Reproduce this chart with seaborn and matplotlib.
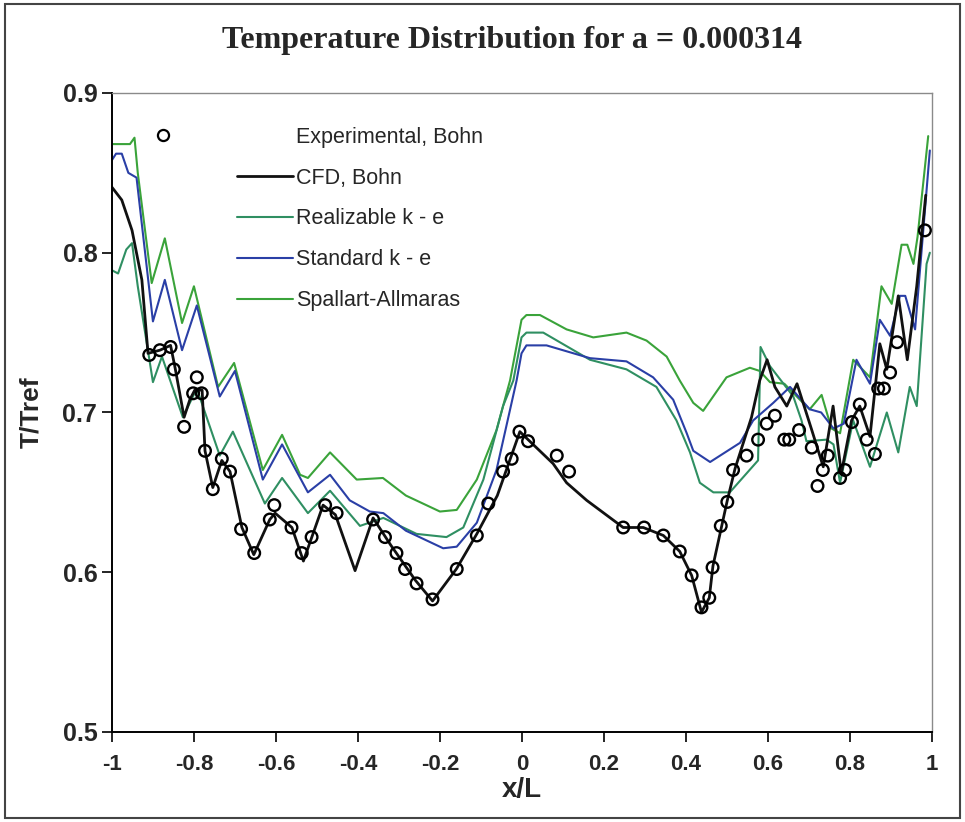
"""Temperature distribution T/Tref along x/L: experiment vs CFD turbulence models."""
import matplotlib
matplotlib.use("Agg")
import matplotlib.pyplot as plt
import numpy as np
import seaborn as sns
from matplotlib.legend_handler import HandlerLine2D
from matplotlib.lines import Line2D
from matplotlib.patches import Rectangle

# Experimental, Bohn (open circles)
exp_x = [-0.909, -0.883, -0.857, -0.849, -0.824, -0.802, -0.793, -0.781, -0.773, -0.754,
         -0.732, -0.712, -0.685, -0.653, -0.615, -0.604, -0.562, -0.537, -0.513, -0.480,
         -0.452, -0.363, -0.334, -0.306, -0.285, -0.257, -0.218, -0.159, -0.110, -0.082,
         -0.046, -0.025, -0.006, 0.015, 0.085, 0.115, 0.247, 0.298, 0.345, 0.385,
         0.414, 0.438, 0.457, 0.465, 0.485, 0.501, 0.515, 0.548, 0.576, 0.597,
         0.617, 0.640, 0.652, 0.676, 0.707, 0.721, 0.734, 0.746, 0.776, 0.788,
         0.805, 0.824, 0.841, 0.861, 0.869, 0.883, 0.898, 0.915, 0.983]
exp_y = [0.736, 0.739, 0.741, 0.727, 0.691, 0.712, 0.722, 0.712, 0.676, 0.652,
         0.671, 0.663, 0.627, 0.612, 0.633, 0.642, 0.628, 0.612, 0.622, 0.642,
         0.637, 0.633, 0.622, 0.612, 0.602, 0.593, 0.583, 0.602, 0.623, 0.643,
         0.663, 0.671, 0.688, 0.682, 0.673, 0.663, 0.628, 0.628, 0.623, 0.613,
         0.598, 0.578, 0.584, 0.603, 0.629, 0.644, 0.664, 0.673, 0.683, 0.693,
         0.698, 0.683, 0.683, 0.689, 0.678, 0.654, 0.664, 0.673, 0.659, 0.664,
         0.694, 0.705, 0.683, 0.674, 0.715, 0.715, 0.725, 0.744, 0.814]

# CFD, Bohn
cfd_x = [-1.0, -0.976, -0.951, -0.927, -0.912, -0.883, -0.857, -0.846, -0.824, -0.810,
         -0.798, -0.780, -0.773, -0.754, -0.732, -0.712, -0.683, -0.654, -0.615, -0.602,
         -0.561, -0.533, -0.485, -0.455, -0.407, -0.363, -0.320, -0.260, -0.218, -0.160,
         -0.110, -0.060, -0.005, 0.015, 0.076, 0.109, 0.158, 0.247, 0.296, 0.345,
         0.385, 0.414, 0.438, 0.457, 0.466, 0.501, 0.520, 0.560, 0.580, 0.598,
         0.617, 0.646, 0.671, 0.707, 0.735, 0.759, 0.779, 0.804, 0.824, 0.849,
         0.873, 0.890, 0.918, 0.940, 0.963, 0.985]
cfd_y = [0.841, 0.833, 0.814, 0.783, 0.737, 0.739, 0.742, 0.728, 0.697, 0.708,
         0.714, 0.714, 0.676, 0.653, 0.670, 0.663, 0.628, 0.611, 0.633, 0.637,
         0.628, 0.607, 0.642, 0.636, 0.601, 0.634, 0.617, 0.595, 0.582, 0.602,
         0.624, 0.648, 0.688, 0.683, 0.668, 0.656, 0.645, 0.628, 0.628, 0.623,
         0.613, 0.598, 0.575, 0.584, 0.604, 0.645, 0.665, 0.697, 0.720, 0.733,
         0.716, 0.704, 0.718, 0.689, 0.666, 0.704, 0.662, 0.695, 0.704, 0.685,
         0.743, 0.727, 0.773, 0.733, 0.779, 0.836]

# Realizable k - e
rke_x = [-1.0, -0.985, -0.965, -0.951, -0.937, -0.900, -0.878, -0.827, -0.793, -0.737,
         -0.705, -0.627, -0.585, -0.522, -0.468, -0.395, -0.338, -0.257, -0.184, -0.143,
         -0.094, -0.046, -0.021, -0.001, 0.011, 0.052, 0.166, 0.255, 0.328, 0.377,
         0.410, 0.434, 0.467, 0.507, 0.576, 0.582, 0.605, 0.662, 0.682, 0.694,
         0.743, 0.760, 0.776, 0.808, 0.849, 0.890, 0.918, 0.946, 0.963, 0.987, 0.995]
rke_y = [0.789, 0.787, 0.802, 0.806, 0.779, 0.719, 0.735, 0.697, 0.715, 0.673,
         0.688, 0.643, 0.659, 0.637, 0.651, 0.629, 0.634, 0.624, 0.622, 0.628,
         0.658, 0.704, 0.720, 0.747, 0.750, 0.750, 0.733, 0.727, 0.716, 0.695,
         0.675, 0.656, 0.650, 0.650, 0.670, 0.741, 0.729, 0.710, 0.695, 0.682,
         0.683, 0.680, 0.656, 0.695, 0.666, 0.700, 0.675, 0.716, 0.704, 0.793, 0.800]

# Standard k - e
ske_x = [-1.0, -0.990, -0.976, -0.960, -0.940, -0.900, -0.871, -0.829, -0.793, -0.737,
         -0.700, -0.632, -0.585, -0.522, -0.468, -0.420, -0.371, -0.338, -0.283, -0.192,
         -0.159, -0.110, -0.062, -0.013, -0.001, 0.011, 0.060, 0.166, 0.255, 0.320,
         0.369, 0.402, 0.418, 0.459, 0.532, 0.564, 0.613, 0.654, 0.702, 0.730,
         0.760, 0.785, 0.816, 0.849, 0.873, 0.898, 0.922, 0.935, 0.959, 0.995]
ske_y = [0.858, 0.862, 0.862, 0.850, 0.847, 0.757, 0.783, 0.739, 0.767, 0.710,
         0.726, 0.658, 0.680, 0.650, 0.661, 0.645, 0.638, 0.637, 0.626, 0.615,
         0.616, 0.631, 0.664, 0.720, 0.737, 0.742, 0.742, 0.734, 0.732, 0.722,
         0.708, 0.687, 0.676, 0.669, 0.681, 0.695, 0.706, 0.716, 0.702, 0.700,
         0.690, 0.693, 0.733, 0.718, 0.758, 0.748, 0.773, 0.773, 0.752, 0.864]

# Spallart-Allmaras
sa_x = [-1.0, -0.956, -0.945, -0.937, -0.903, -0.871, -0.829, -0.800, -0.741, -0.702,
        -0.632, -0.585, -0.541, -0.522, -0.468, -0.403, -0.339, -0.283, -0.200, -0.159,
        -0.110, -0.062, -0.029, -0.001, 0.011, 0.044, 0.109, 0.174, 0.255, 0.304,
        0.353, 0.385, 0.418, 0.442, 0.499, 0.556, 0.580, 0.605, 0.640, 0.678,
        0.702, 0.731, 0.755, 0.776, 0.808, 0.849, 0.877, 0.902, 0.926, 0.940,
        0.955, 0.965, 0.991]
sa_y = [0.868, 0.868, 0.872, 0.850, 0.781, 0.809, 0.756, 0.779, 0.716, 0.731,
        0.664, 0.686, 0.661, 0.659, 0.675, 0.658, 0.659, 0.648, 0.638, 0.639,
        0.658, 0.689, 0.720, 0.758, 0.761, 0.761, 0.752, 0.747, 0.750, 0.745,
        0.735, 0.720, 0.706, 0.701, 0.722, 0.728, 0.726, 0.719, 0.718, 0.708,
        0.702, 0.711, 0.690, 0.687, 0.733, 0.722, 0.779, 0.768, 0.805, 0.805,
        0.793, 0.810, 0.873]

x_ticks = [-1, -0.8, -0.6, -0.4, -0.2, 0, 0.2, 0.4, 0.6, 0.8, 1]
x_tick_labels = ["-1", "-0.8", "-0.6", "-0.4", "-0.2", "0", "0.2", "0.4", "0.6", "0.8", "1"]
y_ticks = [0.5, 0.6, 0.7, 0.8, 0.9]
y_tick_labels = ["0.5", "0.6", "0.7", "0.8", "0.9"]

COLORS = {
    "cfd": "#111111",
    "rke": "#2f8f62",
    "ske": "#2a3fa6",
    "sa": "#3aa33a",
}


class LeftMarkerHandler(HandlerLine2D):
    """Puts the single legend marker to the left of the handle area (Excel-like)."""

    def get_xdata(self, legend, xdescent, ydescent, width, height, fontsize):
        m = -xdescent - 1.32 * width
        return np.array([m, m]), np.array([m])


sns.set_style("ticks")
plt.rcParams["font.family"] = ["Liberation Sans", "DejaVu Sans"]

fig = plt.figure(figsize=(9.65, 8.22), dpi=100)
ax = fig.add_axes([0.116, 0.1095, 0.8497, 0.7774])

sns.lineplot(x=sa_x, y=sa_y, sort=False, estimator=None, color=COLORS["sa"], lw=1.5, ax=ax)
sns.lineplot(x=rke_x, y=rke_y, sort=False, estimator=None, color=COLORS["rke"], lw=1.5, ax=ax)
sns.lineplot(x=ske_x, y=ske_y, sort=False, estimator=None, color=COLORS["ske"], lw=1.5, ax=ax)
sns.lineplot(x=cfd_x, y=cfd_y, sort=False, estimator=None, color=COLORS["cfd"], lw=2.0, ax=ax)
sns.scatterplot(x=exp_x, y=exp_y, marker="o", s=70, facecolor="none", edgecolor="black",
                linewidth=1.7, ax=ax, zorder=5)

ax.set_xlim(-1, 1)
ax.set_ylim(0.5, 0.9)
ax.set_xticks(x_ticks)
ax.set_xticklabels(x_tick_labels, fontsize=16, fontweight="bold")
ax.set_yticks(y_ticks)
ax.set_yticklabels(y_tick_labels, fontsize=18, fontweight="bold")
ax.tick_params(direction="out", length=7, width=1.2, color="black")
ax.tick_params(axis="x", pad=9)
ax.set_xlabel("x/L", fontsize=20, fontweight="bold", labelpad=1)
ax.set_ylabel("T/Tref", fontsize=19, fontweight="bold", labelpad=14)

for side in ["left", "bottom"]:
    ax.spines[side].set_color("black")
    ax.spines[side].set_linewidth(1.4)
for side in ["top", "right"]:
    ax.spines[side].set_visible(True)
    ax.spines[side].set_color("#8a8a8a")
    ax.spines[side].set_linewidth(1.0)

handles = [
    Line2D([], [], linestyle="none", marker="o", markersize=8, mfc="none", mec="black", mew=1.6),
    Line2D([], [], color=COLORS["cfd"], lw=2.0),
    Line2D([], [], color=COLORS["rke"], lw=1.5),
    Line2D([], [], color=COLORS["ske"], lw=1.5),
    Line2D([], [], color=COLORS["sa"], lw=1.5),
]
labels = ["Experimental, Bohn", "CFD, Bohn", "Realizable k - e", "Standard k - e", "Spallart-Allmaras"]
ax.legend(handles, labels, loc="upper left", bbox_to_anchor=(0.152, 0.947), frameon=False,
          fontsize=15.5, handlelength=2.6, handletextpad=0.15, labelspacing=0.92,
          borderpad=0, borderaxespad=0,
          handler_map={handles[0]: LeftMarkerHandler(numpoints=1)})

fig.text(0.531, 0.951, "Temperature Distribution for a = 0.000314", ha="center", va="center",
         fontsize=23, fontweight="bold", family=["Liberation Serif", "DejaVu Serif"])

fig.patches.append(Rectangle((0.005, 0.005), 0.99, 0.99, transform=fig.transFigure,
                             fill=False, edgecolor="#444444", lw=1.5))

fig.savefig("out.png", dpi=100)
